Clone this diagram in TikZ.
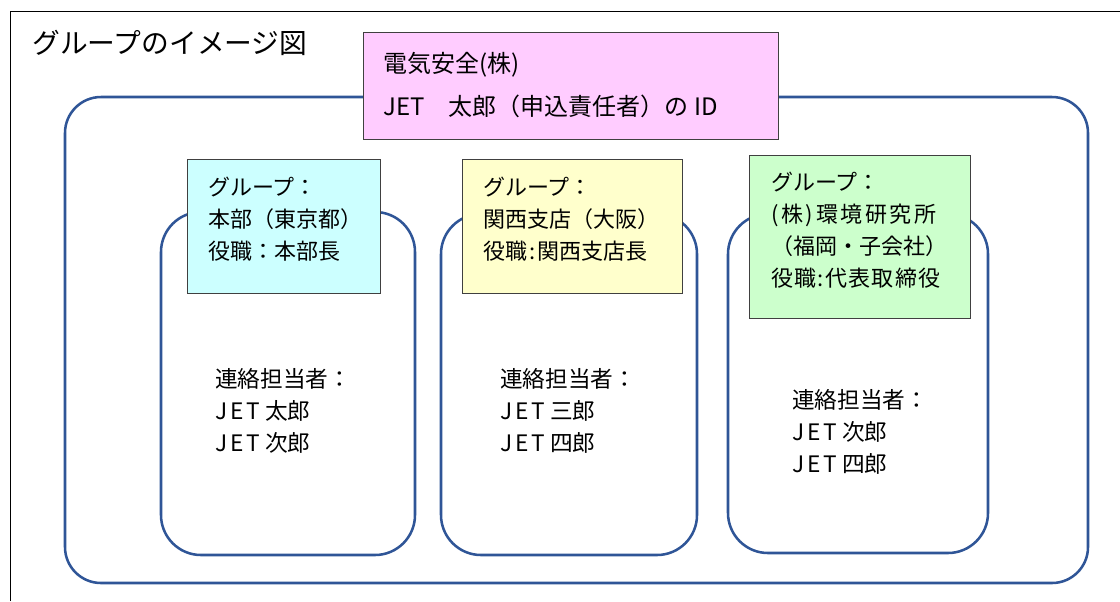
\documentclass[tikz,border=0pt]{standalone}
\usepackage{fontspec}
\setmainfont{Noto Sans CJK JP}
\definecolor{bluec}{RGB}{47,85,151}
\definecolor{pinkc}{RGB}{255,204,255}
\definecolor{cyanc}{RGB}{204,255,255}
\definecolor{yellowc}{RGB}{255,255,204}
\definecolor{greenc}{RGB}{204,255,204}
\newcommand{\jetname}{{\addfontfeature{LetterSpace=12}JET}\hspace{4pt}}
\tikzset{
  framebox/.style={draw=black, line width=0.75pt},
  outerbox/.style={draw=bluec, line width=1.9pt, rounded corners=27pt},
  innerbox/.style={draw=bluec, line width=1.9pt, rounded corners=30pt},
  labelbox/.style={draw=black!75, line width=0.75pt},
  titletxt/.style={anchor=west, inner sep=0pt, font=\fontsize{20.8pt}{24pt}\selectfont},
  pinktxt/.style={anchor=west, inner sep=0pt, align=left, font=\fontsize{18pt}{32pt}\selectfont},
  labeltxt/.style={anchor=west, inner sep=0pt, align=left, font=\fontsize{16.5pt}{24pt}\selectfont},
  contacttxt/.style={anchor=west, inner sep=0pt, align=left, font=\fontsize{17pt}{24pt}\selectfont},
}
\begin{document}
\begin{tikzpicture}[x=0.75pt,y=-0.75pt]
\useasboundingbox (0,0) rectangle (1120,601);
\fill[white] (0,0) rectangle (1120,601);
% outer frame (left and top edges visible)
\draw[framebox] (10,601) -- (10,11) -- (1120,11);
% title
\node[titletxt] (title) at (32,43) {グループのイメージ図};
% big group box
\draw[outerbox] (65,97) rectangle (1088,583);
% company box
\filldraw[labelbox, fill=pinkc] (363,32) rectangle (778,139);
\node[pinktxt] (company) at (383,85) {電気安全(株)\\JET　太郎（申込責任者）の ID};
% inner group boxes
\draw[innerbox] (161,212) rectangle (415,555);
\draw[innerbox] (441,214) rectangle (697,555);
\draw[innerbox] (728,214) rectangle (988,553);
% label boxes
\filldraw[labelbox, fill=cyanc] (187,159) rectangle (380,293);
\filldraw[labelbox, fill=yellowc] (462,159) rectangle (682,293);
\filldraw[labelbox, fill=greenc] (749,155) rectangle (970,318);
\node[labeltxt] (g1) at (208,219) {グループ：\\本部（東京都）\\役職：本部長};
\node[labeltxt] (g2) at (483,219) {グループ：\\関西支店（大阪）\\役職\hspace{1.5pt}:\hspace{1.5pt}関西支店長};
\node[labeltxt] (g3) at (771,230) {グループ：\\{\addfontfeature{LetterSpace=12}(株)環境研究所}\\（福岡・子会社）\\{\addfontfeature{LetterSpace=6}役職:代表取締役}};
% contacts
\node[contacttxt] (c1) at (215,411) {連絡担当者：\\\jetname 太郎\\\jetname 次郎};
\node[contacttxt] (c2) at (500,411) {連絡担当者：\\\jetname 三郎\\\jetname 四郎};
\node[contacttxt] (c3) at (792,432) {連絡担当者：\\\jetname 次郎\\\jetname 四郎};
\end{tikzpicture}
\end{document}
